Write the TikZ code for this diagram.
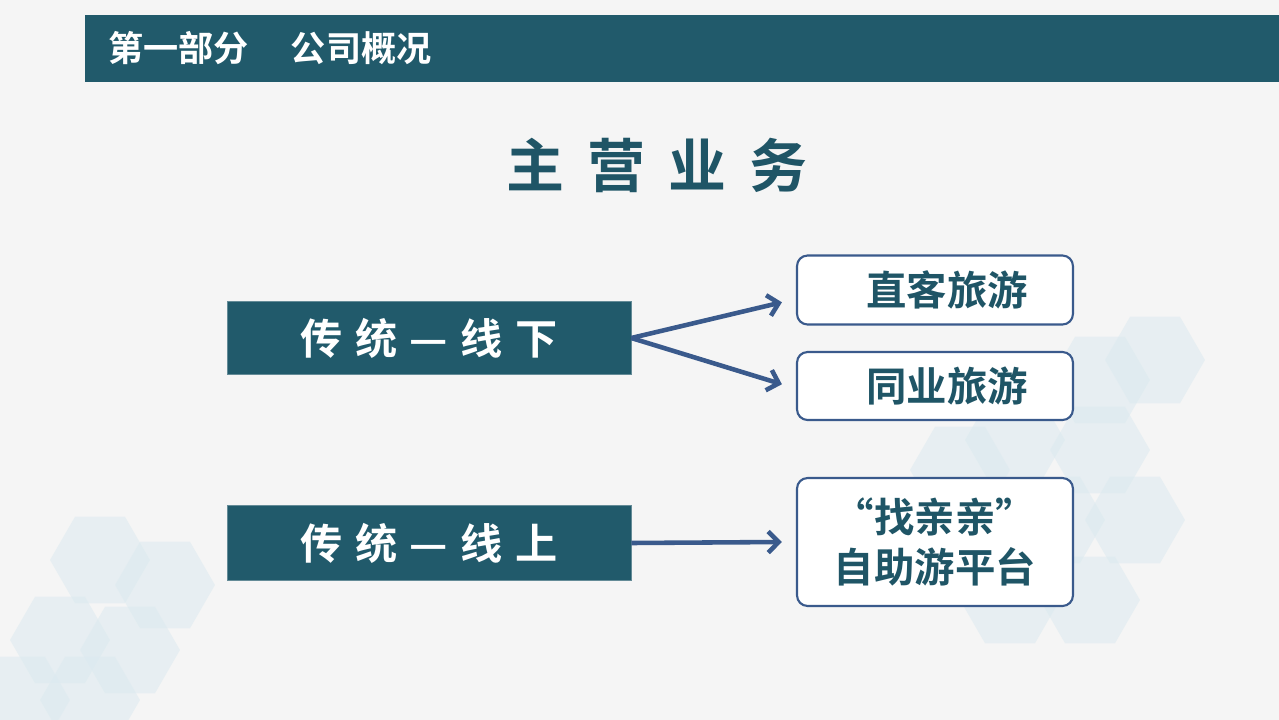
\documentclass[tikz,border=0pt]{standalone}
\usepackage{fontspec}
\setmainfont{Noto Sans CJK SC}
\newfontfamily\cjk[BoldFont={Noto Sans CJK SC Bold}]{Noto Sans CJK SC}
\usetikzlibrary{arrows.meta,shapes.geometric}
\definecolor{barteal}{HTML}{215A6B}
\definecolor{txtteal}{HTML}{1F5566}
\definecolor{arrblue}{HTML}{3A5A8C}
\definecolor{hexblue}{HTML}{DCEAF0}
\tikzset{
  darkbox/.style={draw=barteal!70!white, fill=barteal, text=white, font=\cjk\bfseries\fontsize{24}{28}\selectfont},
  roundbox/.style={draw=arrblue, line width=1.2pt, rounded corners=6pt, fill=white, text=txtteal, font=\cjk\bfseries\fontsize{23}{28}\selectfont, align=center},
  link/.style={draw=arrblue, line width=2.6pt, -{Straight Barb[length=6pt,width=12pt]}},
  hexcell/.style={regular polygon, regular polygon sides=6, minimum size=2.0cm, fill=hexblue, opacity=0.55, inner sep=0pt}
}
\begin{document}
\begin{tikzpicture}[x=0.02cm,y=-0.02cm]
\useasboundingbox (0,0) rectangle (1279,720);
\fill[gray!8] (0,0) rectangle (1279,720); % background
% hexagon decoration
\foreach \hx/\hy in {1100/380, 1155/360, 1015/440, 1100/450, 1055/520, 1135/520, 960/470, 1090/600, 1010/600}
  \node[hexcell] at (\hx,\hy) {};
\foreach \hx/\hy in {100/560, 165/585, 60/640, 130/650, 90/700, 20/700}
  \node[hexcell] at (\hx,\hy) {};
% header bar
\fill[barteal] (85,15) rectangle (1279,82);
\node[anchor=west, text=white, font=\cjk\bfseries\fontsize{20}{22}\selectfont] (hdr) at (102,48) {第一部分\hspace{1.2em}公司概况};
\node[text=txtteal, font=\cjk\bfseries\fontsize{33}{36}\selectfont] (title) at (657,165) {主\hspace{0.4em}营\hspace{0.4em}业\hspace{0.4em}务};
% left boxes
\node[darkbox, minimum width=8.08cm, minimum height=1.46cm] (offline) at (429,338) {传\hspace{0.3em}统\hspace{0.3em}—\hspace{0.3em}线\hspace{0.3em}下};
\node[darkbox, minimum width=8.08cm, minimum height=1.5cm] (online) at (429,543) {传\hspace{0.3em}统\hspace{0.3em}—\hspace{0.3em}线\hspace{0.3em}上};
% right boxes
\node[roundbox, minimum width=5.52cm, minimum height=1.38cm] (direct) at (935,290) {\hspace{0.6em}直客旅游};
\node[roundbox, minimum width=5.52cm, minimum height=1.36cm] (peer) at (935,386) {\hspace{0.6em}同业旅游};
\node[roundbox, minimum width=5.52cm, minimum height=2.56cm] (platform) at (935,542) {“找亲亲”\\自助游平台};
% arrows
\coordinate (split) at (offline.east);
\draw[link] (split) -- ([xshift=-8pt,yshift=-7pt]direct.west);
\draw[link] (split) -- ([xshift=-8pt,yshift=1pt]peer.west);
\draw[link] (online.east) -- ([xshift=-8pt]platform.west);
\end{tikzpicture}
\end{document}
